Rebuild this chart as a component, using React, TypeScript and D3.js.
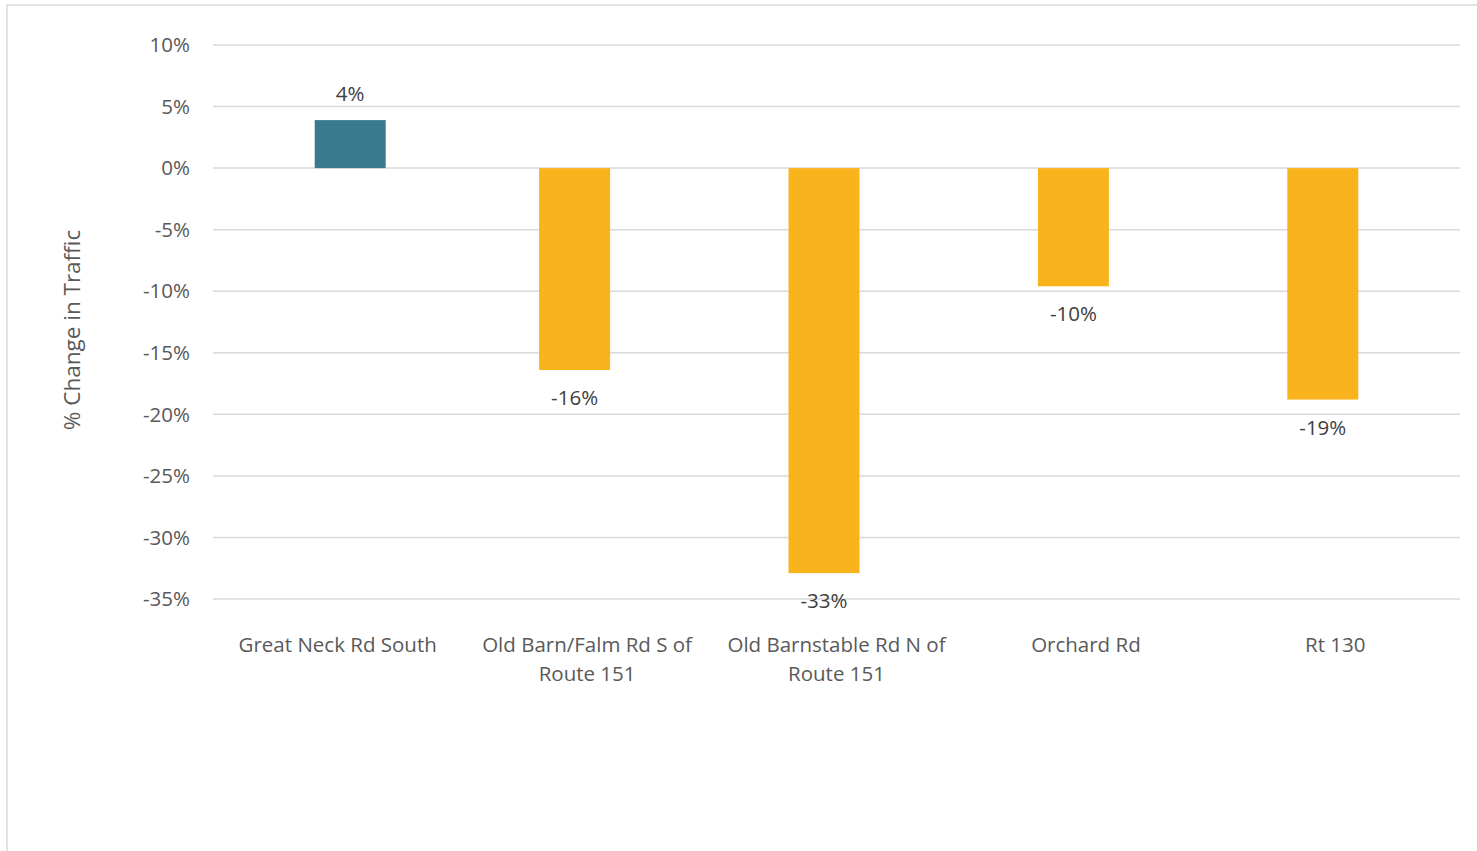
import React from "react";
import * as d3 from "d3";

const categories: string[][] = [
  ["Great Neck Rd South"],
  ["Old Barn/Falm Rd S of", "Route 151"],
  ["Old Barnstable Rd N of", "Route 151"],
  ["Orchard Rd"],
  ["Rt 130"],
];
const values: number[] = [0.039, -0.164, -0.329, -0.096, -0.188];
const series: string[] = ["increase", "decrease", "decrease", "decrease", "decrease"];
const yTicks: number[] = [0.1, 0.05, 0, -0.05, -0.1, -0.15, -0.2, -0.25, -0.3, -0.35];
const yTitle = "% Change in Traffic";

const W = 1477;
const H = 851;
const FONT = "'Open Sans', 'Noto Sans', sans-serif";

export default function App() {
  const x = d3.scaleBand<number>().domain(d3.range(categories.length)).range([213, 1460]).padding(0);
  const y = d3.scaleLinear().domain([-0.35, 0.1]).range([599, 45]);
  const seriesOffset = d3.scaleOrdinal<string, number>().domain(["decrease", "increase"]).range([-12.5, 12.5]);
  const color = d3.scaleOrdinal<string, string>().domain(["increase", "decrease"]).range(["#3a7a8e", "#f9b41d"]);
  const barW = 71;
  const fmt = d3.format(".0%");
  const tickFmt = (v: number) => `${Math.round(v * 100)}%`;
  const fs = 20.5;

  return (
    <svg
      width={W}
      height={H}
      style={{ position: "absolute", left: 0, top: 0, background: "#fff" }}
      fontFamily={FONT}
    >
      <rect x={7} y={5} width={W + 20} height={H + 20} fill="#fff" stroke="#d9d9d9" strokeWidth={1.5} />
      {yTicks.map((t) => (
        <g key={t}>
          <line x1={213} x2={1460} y1={y(t)} y2={y(t)} stroke="#d9d9d9" strokeWidth={1.5} />
          <text x={190} y={y(t)} dy="0.35em" textAnchor="end" fontSize={fs} fill="#595959">
            {tickFmt(t)}
          </text>
        </g>
      ))}
      {values.map((v, i) => {
        const cx = x(i)! + x.bandwidth() / 2 + seriesOffset(series[i]);
        const y0 = y(0);
        const y1 = y(v);
        return (
          <g key={i}>
            <rect
              x={cx - barW / 2}
              y={Math.min(y0, y1)}
              width={barW}
              height={Math.abs(y1 - y0)}
              fill={color(series[i])}
            />
            <text
              x={cx}
              y={v >= 0 ? y1 - 26 : y1 + 28}
              dy="0.35em"
              textAnchor="middle"
              fontSize={fs}
              fill="#404040"
            >
              {fmt(v).replace("−", "-")}
            </text>
          </g>
        );
      })}
      {categories.map((lines, i) => (
        <text key={i} x={x(i)! + x.bandwidth() / 2} y={645} textAnchor="middle" fontSize={fs} fill="#595959">
          {lines.map((l, j) => (
            <tspan key={j} x={x(i)! + x.bandwidth() / 2} y={645 + j * 29} dy="0.35em">
              {l}
            </tspan>
          ))}
        </text>
      ))}
      <text
        transform={`translate(72,${330}) rotate(-90)`}
        textAnchor="middle"
        dy="0.35em"
        fontSize={22.5}
        fill="#595959"
      >
        {yTitle}
      </text>
    </svg>
  );
}
